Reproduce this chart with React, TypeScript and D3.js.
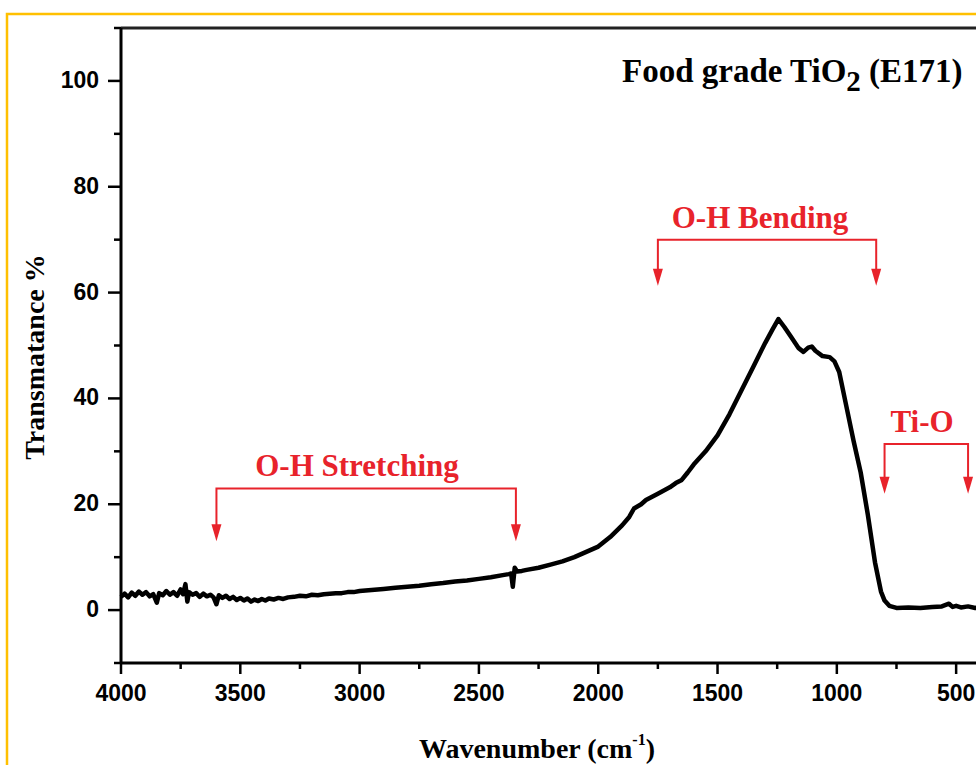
import React from "react";
import * as d3 from "d3";

// spectrum (wavenumber in cm-1, transmittance in %)
const wavenumbers = [
  4000, 3985, 3970, 3955, 3940, 3925, 3910, 3895, 3880, 3865, 3850, 3840, 3825, 3810, 3795,
  3780, 3765, 3750, 3740, 3730, 3722, 3715, 3700, 3685, 3670, 3655, 3640, 3625, 3612, 3600,
  3590, 3575, 3560, 3545, 3530, 3515, 3500, 3485, 3470, 3455, 3440, 3425, 3410, 3395, 3380,
  3360, 3340, 3320, 3300, 3275, 3250, 3225, 3200, 3175, 3150, 3125, 3100, 3075, 3050, 3025,
  3000, 2950, 2900, 2850, 2800, 2750, 2700, 2650, 2600, 2550, 2500, 2450, 2400, 2375, 2365,
  2358, 2350, 2340, 2320, 2300, 2250, 2200, 2150, 2100, 2050, 2000, 1950, 1900, 1870, 1850,
  1820, 1800, 1750, 1700, 1675, 1650, 1625, 1600, 1550, 1500, 1450, 1400, 1350, 1300, 1270,
  1245, 1220, 1190, 1160, 1140, 1120, 1105, 1090, 1060, 1030, 1010, 990, 960, 930, 900,
  870, 840, 815, 800, 780, 750, 700, 650, 600, 560, 530, 515, 500, 480, 450, 420, 400,
];
const transmittance = [
  2.5, 3.1, 2.4, 3.3, 2.7, 3.5, 2.9, 3.4, 2.6, 3.0, 1.4, 3.2, 2.8, 3.6, 2.9,
  3.4, 2.7, 3.9, 3.0, 4.9, 1.6, 3.4, 2.9, 3.2, 2.5, 3.1, 2.6, 2.9, 2.4, 1.1,
  2.8, 2.3, 2.7, 2.1, 2.5, 1.9, 2.3, 1.8, 2.2, 1.6, 2.0, 1.7, 2.1, 1.8, 2.2,
  2.0, 2.3, 2.1, 2.4, 2.5, 2.7, 2.6, 2.9, 2.8, 3.0, 3.1, 3.2, 3.2, 3.4, 3.4,
  3.6, 3.8, 4.0, 4.2, 4.4, 4.6, 4.9, 5.1, 5.4, 5.6, 5.9, 6.2, 6.6, 6.8, 6.9,
  4.4, 8.0, 7.3, 7.4, 7.6, 8.0, 8.6, 9.2, 10.0, 11.0, 12.0, 13.8, 16.0, 17.6, 19.2,
  20.0, 20.8, 22.0, 23.2, 24.0, 24.6, 26.0, 27.5, 30.0, 33.0, 37.0, 41.5, 46.0, 50.5, 53.0,
  55.0, 53.5, 51.5, 49.5, 48.8, 49.6, 49.8, 49.0, 48.0, 47.8, 47.0, 45.0, 38.5, 32.0, 26.0,
  18.0, 9.0, 3.5, 1.8, 0.8, 0.4, 0.5, 0.4, 0.6, 0.7, 1.2, 0.6, 0.8, 0.5, 0.7, 0.4, 0.5,
];

const xMajorTicks = [4000, 3500, 3000, 2500, 2000, 1500, 1000, 500];
const xMinorTicks = [3750, 3250, 2750, 2250, 1750, 1250, 750];
const yMajorTicks = [0, 20, 40, 60, 80, 100];
const yMinorTicks = [-10, 10, 30, 50, 70, 90, 110];

// annotation brackets: label, start / end wavenumber, bracket level, arrow tip level (%)
const bandLabels = ["O-H Stretching", "O-H Bending", "Ti-O"];
const bandFrom = [3600, 1750, 800];
const bandTo = [2345, 835, 450];
const bandLevel = [23, 70, 31.4];
const bandTip = [13, 61.3, 22];
const bandTextAt = [3011, 1322, 643];

const W = 976;
const H = 765;
const red = "#e8232b";

export default function App() {
  const x = d3.scaleLinear().domain([4000, 400]).range([121, 980]);
  const y = d3.scaleLinear().domain([-10, 110]).range([663, 28]);

  const pts = wavenumbers.map((w, i) => [w, transmittance[i]] as [number, number]);
  const line = d3
    .line<[number, number]>()
    .x((d) => x(d[0]))
    .y((d) => y(d[1]));

  const left = x(4000);
  const bottom = y(-10);
  const top = y(110);

  return (
    <div style={{ position: "absolute", left: 0, top: 0 }}>
      <svg width={W} height={H} style={{ display: "block", background: "#fff" }}>
        {/* yellow frame of the figure */}
        <rect x={7} y={14} width={1200} height={900} fill="none" stroke="#ffc000" strokeWidth={2.5} />

        {/* spectrum */}
        <path
          d={line(pts) || ""}
          fill="none"
          stroke="#000"
          strokeWidth={4.5}
          strokeLinejoin="round"
        />

        {/* axes frame */}
        <line x1={left} x2={W + 10} y1={top} y2={top} stroke="#222" strokeWidth={3} />
        <line x1={left} x2={left} y1={top} y2={bottom} stroke="#000" strokeWidth={3} />
        <line x1={left} x2={W + 10} y1={bottom} y2={bottom} stroke="#000" strokeWidth={3} />

        {/* x ticks */}
        {xMajorTicks.map((t) => (
          <g key={"xM" + t}>
            <line x1={x(t)} x2={x(t)} y1={bottom} y2={bottom + 11} stroke="#000" strokeWidth={2.5} />
            <text
              x={x(t)}
              y={701}
              textAnchor="middle"
              fontFamily="Liberation Sans, Arial, sans-serif"
              fontWeight="bold"
              fontSize={23}
            >
              {t}
            </text>
          </g>
        ))}
        {xMinorTicks.map((t) => (
          <line key={"xm" + t} x1={x(t)} x2={x(t)} y1={bottom} y2={bottom + 6} stroke="#000" strokeWidth={2.5} />
        ))}

        {/* y ticks */}
        {yMajorTicks.map((t) => (
          <g key={"yM" + t}>
            <line x1={left - 13} x2={left} y1={y(t)} y2={y(t)} stroke="#000" strokeWidth={2.5} />
            <text
              x={99}
              y={y(t) + 7}
              textAnchor="end"
              fontFamily="Liberation Sans, Arial, sans-serif"
              fontWeight="bold"
              fontSize={23}
            >
              {t}
            </text>
          </g>
        ))}
        {yMinorTicks.map((t) => (
          <line key={"ym" + t} x1={left - 7} x2={left} y1={y(t)} y2={y(t)} stroke="#000" strokeWidth={2.5} />
        ))}

        {/* axis titles */}
        <text
          x={537}
          y={758}
          textAnchor="middle"
          fontFamily="Liberation Serif, Times New Roman, serif"
          fontWeight="bold"
          fontSize={28}
        >
          Wavenumber (cm
          <tspan fontSize={16} dy={-13}>-1</tspan>
          <tspan dy={13}>)</tspan>
        </text>
        <text
          transform="translate(44,357) rotate(-90)"
          textAnchor="middle"
          fontFamily="Liberation Serif, Times New Roman, serif"
          fontWeight="bold"
          fontSize={28}
        >
          Transmatance %
        </text>

        {/* title */}
        <text
          x={622}
          y={82}
          fontFamily="Liberation Serif, Times New Roman, serif"
          fontWeight="bold"
          fontSize={33}
        >
          Food grade TiO
          <tspan fontSize={29} dy={9}>2</tspan>
          <tspan dy={-9}> (E171)</tspan>
        </text>

        {/* band annotations */}
        {bandLabels.map((lab, i) => {
          const x1 = x(bandFrom[i]);
          const x2 = x(bandTo[i]);
          const yl = y(bandLevel[i]);
          const yt = y(bandTip[i]);
          return (
            <g key={lab}>
              <text
                x={x(bandTextAt[i])}
                y={yl - 12}
                textAnchor="middle"
                fill={red}
                fontFamily="Liberation Serif, Times New Roman, serif"
                fontWeight="bold"
                fontSize={31}
              >
                {lab}
              </text>
              <path
                d={`M${x1},${yt - 14}V${yl}H${x2}V${yt - 14}`}
                fill="none"
                stroke={red}
                strokeWidth={2}
              />
              {[x1, x2].map((ax, j) => (
                <path key={j} d={`M${ax - 5},${yt - 17}L${ax + 5},${yt - 17}L${ax},${yt}Z`} fill={red} />
              ))}
            </g>
          );
        })}
      </svg>
    </div>
  );
}
